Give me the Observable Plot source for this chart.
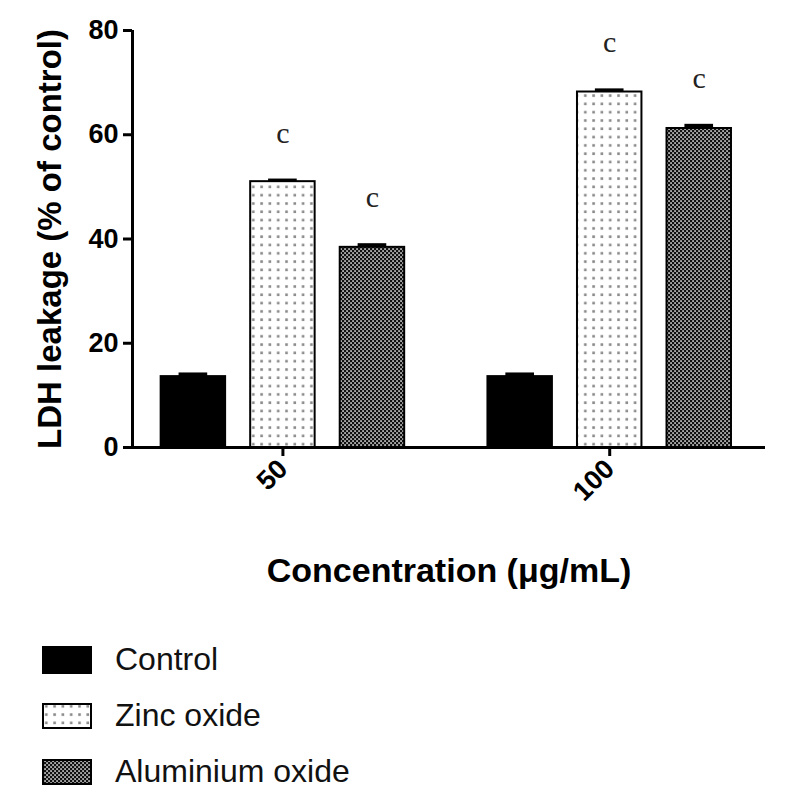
<!DOCTYPE html>
<html>
<head>
<meta charset="utf-8">
<script src="https://cdn.jsdelivr.net/npm/d3@7"></script>
<script src="https://cdn.jsdelivr.net/npm/@observablehq/plot@0.6"></script>
<style>
  html, body { margin: 0; padding: 0; background: #fff; }
  #wrap { position: relative; width: 792px; height: 805px; font-family: "Liberation Sans", Arial, sans-serif; }
  #chart { position: absolute; left: 0; top: 0; }
  .leg { position: absolute; left: 42px; display: flex; align-items: center; font-size: 32px; color: #111; }
  .leg svg { margin-right: 23px; }
</style>
</head>
<body>
<div id="wrap"><div id="chart"></div><div id="legend"></div></div>
<script>
// ---- data ----
const concentrations = ["50", "100"];
const series = ["Control", "Zinc oxide", "Aluminium oxide"];
const controlValues = [13.6, 13.6];
const zincValues = [51.0, 68.2];
const aluminiumValues = [38.4, 61.2];
const controlErr = [0.7, 0.7];
const zincErr = [0.5, 0.6];
const aluminiumErr = [0.7, 0.8];
const letters = [["", "c", "c"], ["", "c", "c"]];
const yTicks = [0, 20, 40, 60, 80];
const xTitle = "Concentration (μg/mL)";
const yTitle = "LDH leakage (% of control)";

// ---- layout helpers ----
const groupGap = 3.65;   // spacing between groups (in bar steps)
const halfBar = 0.36;
const halfCap = 0.16;
const fills = ["#000", "url(#zincPat)", "url(#aluPat)"];
const strokes = ["#000", "#000", "#000"];
const valuesBySeries = [controlValues, zincValues, aluminiumValues];
const errBySeries = [controlErr, zincErr, aluminiumErr];

const rows = [];
concentrations.forEach((c, gi) => {
  series.forEach((s, si) => {
    rows.push({conc: c, series: s, si, pos: gi * groupGap + si,
      value: valuesBySeries[si][gi], err: errBySeries[si][gi], letter: letters[gi][si]});
  });
});
const xDomain = [-0.68, 6.39];
const tickPositions = concentrations.map((c, gi) => gi * groupGap + 1);

const bold = {fontWeight: "bold"};
const plot = Plot.plot({
  width: 792,
  height: 600,
  marginLeft: 132,
  marginRight: 27,
  marginTop: 30,
  marginBottom: 153,
  style: {fontFamily: "'Liberation Sans', Arial, sans-serif", color: "#000", background: "transparent"},
  x: {type: "linear", domain: xDomain, axis: null},
  y: {domain: [0, 80], axis: null},
  marks: [
    ...series.map((s, si) => Plot.rect(rows.filter(d => d.si === si), {
      x1: d => d.pos - halfBar, x2: d => d.pos + halfBar, y1: 0, y2: "value",
      fill: fills[si], stroke: strokes[si], strokeWidth: 2
    })),
    Plot.rect(rows, {
      x1: d => d.pos - halfCap, x2: d => d.pos + halfCap,
      y1: "value", y2: d => d.value + d.err, fill: "#000"
    }),
    Plot.text(rows.filter(d => d.letter), {
      x: "pos", y: d => d.value + d.err, text: "letter", dy: -46,
      fontFamily: "'Liberation Serif', 'Times New Roman', serif", fontSize: 30, fill: "#222"
    }),
    Plot.axisY({ticks: yTicks, tickSize: 9, tickPadding: 5, fontSize: 27, strokeWidth: 3, label: null, ...bold}),
    Plot.axisX({ticks: tickPositions, tickFormat: d => concentrations[Math.round((d - 1) / groupGap)],
      tickRotate: -45, tickSize: 9, tickPadding: 8, fontSize: 27, strokeWidth: 3, label: null, ...bold}),
    Plot.ruleY([0], {strokeWidth: 3}),
    Plot.ruleX([xDomain[0]], {strokeWidth: 3}),
    Plot.text([yTitle], {frameAnchor: "left", textAnchor: "middle", lineAnchor: "middle", rotate: -90, dx: -82, fontSize: 33, ...bold}),
    Plot.text([xTitle], {frameAnchor: "bottom", textAnchor: "middle", lineAnchor: "middle", dy: 124, fontSize: 34, ...bold})
  ]
});

// pattern definitions
const defsMarkup = `
<defs>
  <pattern id="zincPat" patternUnits="userSpaceOnUse" width="8.3" height="8.3">
    <rect width="8.3" height="8.3" fill="#fff"/>
    <rect x="3" y="3" width="2.6" height="2.6" fill="#8a8a8a"/>
  </pattern>
  <pattern id="aluPat" patternUnits="userSpaceOnUse" width="4" height="4">
    <rect width="4" height="4" fill="#111"/>
    <rect x="0.3" y="0.3" width="1.5" height="1.5" fill="#fff"/>
    <rect x="2.3" y="2.3" width="1.5" height="1.5" fill="#fff"/>
  </pattern>
</defs>`;
plot.insertAdjacentHTML("afterbegin", defsMarkup);
document.getElementById("chart").appendChild(plot);

// legend
const legend = document.getElementById("legend");
const legendTops = [641, 697, 753];
series.forEach((s, si) => {
  const div = document.createElement("div");
  div.className = "leg";
  div.style.top = legendTops[si] + "px";
  const sw = si === 0
    ? `<svg width="50" height="28"><rect x="0" y="0" width="50" height="28" fill="#000"/></svg>`
    : `<svg width="50" height="28"><rect x="1" y="2" width="48" height="24" fill="${fills[si]}" stroke="#000" stroke-width="2"/></svg>`;
  div.innerHTML = sw + `<span>${s}</span>`;
  legend.appendChild(div);
});
legend.insertAdjacentHTML("afterbegin", `<svg width="0" height="0" style="position:absolute">${defsMarkup}</svg>`);
</script>
</body>
</html>
